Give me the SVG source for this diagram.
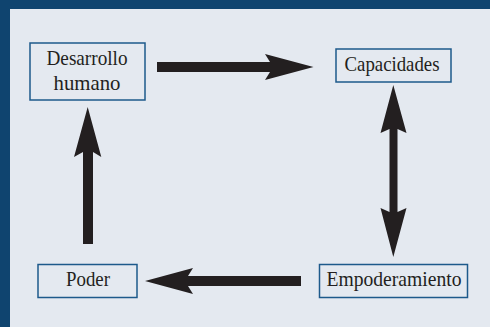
<svg xmlns="http://www.w3.org/2000/svg" width="490" height="327" viewBox="0 0 490 327">
  <style>
    .box { fill: #e4e9f0; stroke: #1d5a8b; stroke-width: 1.5; }
    .label { font-family: "Liberation Serif", "Times New Roman", serif; font-size: 21px; fill: #231f20; text-anchor: middle; }
    .arrow { fill: #231f20; }
  </style>
  <!-- frame and panel -->
  <rect x="0" y="0" width="490" height="327" fill="#0f446f"/>
  <rect x="10" y="9" width="480" height="318" fill="#e4e9f0"/>

  <g id="connectors">
    <!-- Desarrollo humano -> Capacidades -->
    <polygon class="arrow" points="157,62 270,62 265,54 313.5,67 265,80 270,72 157,72"/>
    <!-- Capacidades <-> Empoderamiento -->
    <polygon class="arrow" points="393.3,85 406.5,133 397.5,129 397.5,212 406.5,208 393.3,257 380.5,208 389.5,212 389.5,129 380.5,133"/>
    <!-- Empoderamiento -> Poder -->
    <polygon class="arrow" points="301,276 188,276 193,268 145,281 193,294 188,286 301,286"/>
    <!-- Poder -> Desarrollo humano -->
    <polygon class="arrow" points="83,244 83,152 74,157 87.7,107 101.3,157 93,152 93,244"/>
  </g>

  <g id="desarrollo">
    <rect class="box" x="30" y="43" width="115" height="57"/>
    <text class="label" x="87" y="65" textLength="81" lengthAdjust="spacingAndGlyphs">Desarrollo</text>
    <text class="label" x="87" y="90" textLength="67" lengthAdjust="spacingAndGlyphs">humano</text>
  </g>
  <g id="capacidades">
    <rect class="box" x="336" y="49" width="115" height="33"/>
    <text class="label" x="392" y="71" textLength="95" lengthAdjust="spacingAndGlyphs">Capacidades</text>
  </g>
  <g id="poder">
    <rect class="box" x="38" y="264.5" width="99" height="33"/>
    <text class="label" x="88" y="286" textLength="44" lengthAdjust="spacingAndGlyphs">Poder</text>
  </g>
  <g id="empoderamiento">
    <rect class="box" x="319.5" y="264.5" width="148" height="33"/>
    <text class="label" x="394" y="286" textLength="135" lengthAdjust="spacingAndGlyphs">Empoderamiento</text>
  </g>
</svg>
